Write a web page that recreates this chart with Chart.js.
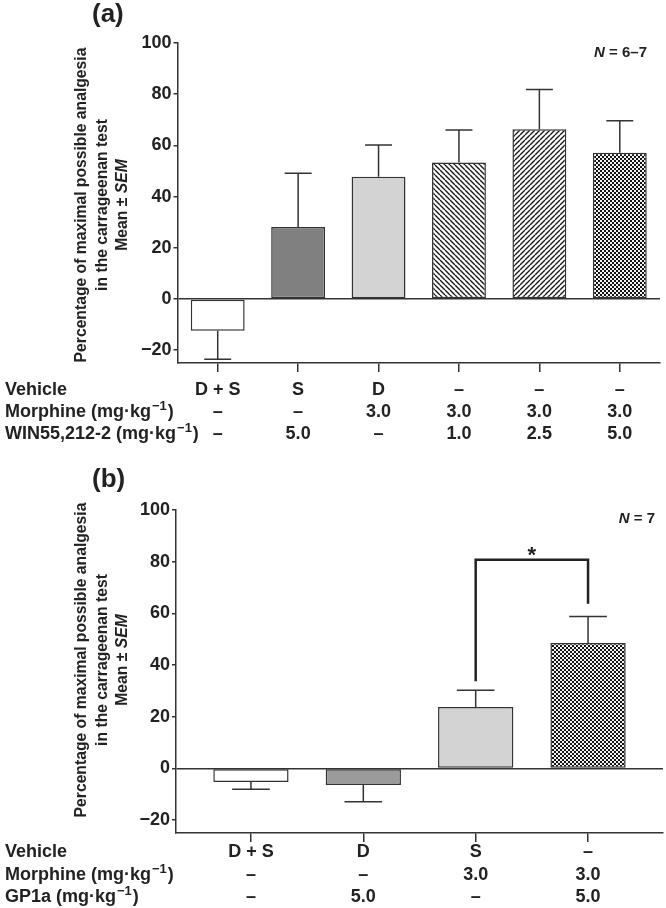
<!DOCTYPE html>
<html>
<head>
<meta charset="utf-8">
<script src="https://cdn.jsdelivr.net/npm/chart.js@4.4.1/dist/chart.umd.min.js"></script>
<style>
  body { margin: 0; background: #fff; width: 666px; height: 908px; position: relative; overflow: hidden; }
  canvas { position: absolute; left: 0; }
  #chartA { top: 0; }
  #chartB { top: 455px; }
</style>
</head>
<body>
<canvas id="chartA" width="666" height="455"></canvas>
<canvas id="chartB" width="666" height="453"></canvas>
<script>
// panel (a)
const vehicleA = ['D + S', 'S', 'D', '–', '–', '–'];
const morphineA = ['–', '–', '3.0', '3.0', '3.0', '3.0'];
const winA = ['–', '5.0', '–', '1.0', '2.5', '5.0'];
const meanA = [-12.4, 28.1, 47.8, 53.3, 66.3, 57.1];
const semA = [11.1, 21.0, 12.4, 12.7, 15.5, 12.5];

// panel (b)
const vehicleB = ['D + S', 'D', 'S', '–'];
const morphineB = ['–', '–', '3.0', '3.0'];
const gp1aB = ['–', '5.0', '–', '5.0'];
const meanB = [-5.3, -6.4, 23.8, 48.5];
const semB = [2.8, 6.5, 6.4, 10.3];
const sigB = { from: 2, to: 3, top: 80.7, legs: [33.7, 63.7] };

const yTicks = [-20, 0, 20, 40, 60, 80, 100];

const INK = '#222';
const FONT = '"Liberation Sans", Arial, sans-serif';

function tile(size, draw) {
  const c = document.createElement('canvas');
  c.width = c.height = size;
  const g = c.getContext('2d');
  draw(g, size);
  return g.createPattern(c, 'repeat');
}
function hatch(back) {
  return tile(5, (g, s) => {
    g.fillStyle = '#fff';
    g.fillRect(0, 0, s, s);
    g.strokeStyle = '#1a1a1a';
    g.lineWidth = 1.4;
    g.beginPath();
    for (let k = -1; k <= 1; k++) {
      if (back) { g.moveTo(k * s, 0); g.lineTo(k * s + s, s); }
      else { g.moveTo(k * s, s); g.lineTo(k * s + s, 0); }
    }
    g.stroke();
  });
}
const checker = tile(4, (g) => {
  g.fillStyle = '#141414';
  g.fillRect(0, 0, 4, 4);
  g.fillStyle = '#f2f2f2';
  g.fillRect(0, 0, 2, 2);
  g.fillRect(2, 2, 2, 2);
});

const fillsA = ['#ffffff', '#808080', '#d3d3d3', hatch(true), hatch(false), checker];
const fillsB = ['#ffffff', '#9b9b9b', '#d3d3d3', checker];

function drawHeader(ctx, parts, x, y) {
  // parts: [text, superscript, tail]
  ctx.textAlign = 'left';
  ctx.font = 'bold 18px ' + FONT;
  ctx.fillText(parts[0], x, y);
  x += ctx.measureText(parts[0]).width;
  if (parts[1]) {
    ctx.font = 'bold 13px ' + FONT;
    ctx.fillText(parts[1], x + 1, y - 6);
    x += ctx.measureText(parts[1]).width + 2;
    ctx.font = 'bold 18px ' + FONT;
    ctx.fillText(parts[2], x, y);
  }
}

function makePanel(id, cfg) {
  const n = cfg.mean.length;
  const panelPlugin = {
    id: 'panel_' + id,
    afterDatasetsDraw(chart) {
      const ctx = chart.ctx;
      const ys = chart.scales.y;
      const meta = chart.getDatasetMeta(0);
      ctx.save();
      ctx.strokeStyle = '#333';
      ctx.lineWidth = 1.5;
      meta.data.forEach((bar, i) => {
        const v = cfg.mean[i];
        const end = ys.getPixelForValue(v + Math.sign(v) * cfg.sem[i]);
        const half = bar.width / 4;
        ctx.beginPath();
        ctx.moveTo(bar.x, bar.y);
        ctx.lineTo(bar.x, end);
        ctx.moveTo(bar.x - half, end);
        ctx.lineTo(bar.x + half, end);
        ctx.stroke();
      });
      ctx.restore();
    },
    afterDraw(chart) {
      const ctx = chart.ctx;
      const xs = chart.scales.x, ys = chart.scales.y;
      const area = chart.chartArea;
      ctx.save();
      ctx.fillStyle = INK;
      ctx.textBaseline = 'middle';

      // table under the axis
      cfg.rows.forEach((row, r) => {
        const y = area.bottom + cfg.rowOffsets[r];
        drawHeader(ctx, row.head, 5, y);
        ctx.font = 'bold 18px ' + FONT;
        ctx.textAlign = 'center';
        row.values.forEach((v, i) => ctx.fillText(v, xs.getPixelForValue(i), y));
      });

      // panel letter
      ctx.textBaseline = 'alphabetic';
      ctx.textAlign = 'left';
      ctx.font = 'bold 26px ' + FONT;
      ctx.fillText(cfg.letter, 92, cfg.letterY);

      // N label
      ctx.textAlign = 'right';
      ctx.font = 'bold 15px ' + FONT;
      const rest = ' = ' + cfg.nText;
      ctx.fillText(rest, cfg.nX, cfg.nY);
      const w = ctx.measureText(rest).width;
      ctx.font = 'italic bold 15px ' + FONT;
      ctx.fillText('N', cfg.nX - w, cfg.nY);

      // y title, rotated
      ctx.translate(0, 205);
      ctx.rotate(-Math.PI / 2);
      ctx.textBaseline = 'middle';
      ctx.textAlign = 'center';
      ctx.font = 'bold 15.7px ' + FONT;
      ctx.fillText('Percentage of maximal possible analgesia', 0, 82);
      ctx.fillText('in the carrageenan test', 0, 103);
      const a = 'Mean ± ';
      const wa = ctx.measureText(a).width;
      ctx.font = 'italic bold 15.7px ' + FONT;
      const wb = ctx.measureText('SEM').width;
      ctx.textAlign = 'left';
      ctx.font = 'bold 15.7px ' + FONT;
      ctx.fillText(a, -(wa + wb) / 2, 123);
      ctx.font = 'italic bold 15.7px ' + FONT;
      ctx.fillText('SEM', -(wa + wb) / 2 + wa, 123);
      ctx.setTransform(1, 0, 0, 1, 0, 0);

      // significance bracket
      if (cfg.sig) {
        const s = cfg.sig;
        const x1 = xs.getPixelForValue(s.from), x2 = xs.getPixelForValue(s.to);
        const yt = ys.getPixelForValue(s.top);
        ctx.strokeStyle = INK;
        ctx.lineWidth = 2.5;
        ctx.beginPath();
        ctx.moveTo(x1, ys.getPixelForValue(s.legs[0]));
        ctx.lineTo(x1, yt);
        ctx.lineTo(x2, yt);
        ctx.lineTo(x2, ys.getPixelForValue(s.legs[1]));
        ctx.stroke();
        ctx.textAlign = 'center';
        ctx.textBaseline = 'alphabetic';
        ctx.font = 'bold 22px ' + FONT;
        ctx.fillText('*', (x1 + x2) / 2, yt + 2);
      }
      ctx.restore();
    }
  };

  return new Chart(document.getElementById(id), {
    type: 'bar',
    data: {
      datasets: [{
        data: cfg.mean.map((v, i) => ({ x: i, y: v })),
        backgroundColor: cfg.fills,
        borderColor: '#333',
        borderWidth: 1.5,
        borderSkipped: false,
        barPercentage: 0.67,
        categoryPercentage: 1
      }]
    },
    options: {
      responsive: false,
      animation: false,
      layout: { padding: { top: cfg.top, right: cfg.right, left: 0, bottom: 0 } },
      plugins: { legend: { display: false }, tooltip: { enabled: false } },
      scales: {
        x: {
          type: 'linear',
          offset: false,
          min: cfg.xMin,
          max: n - 1 - cfg.xMin,
          afterBuildTicks: s => { s.ticks = cfg.mean.map((_, i) => ({ value: i })); },
          afterFit: s => { s.height = cfg.xHeight; s.paddingLeft = 0; s.paddingRight = 0; },
          ticks: { display: false },
          grid: { offset: false, drawOnChartArea: false, tickLength: 9, tickColor: '#333', lineWidth: 1.5 },
          border: { color: '#333', width: 1.5 }
        },
        y: {
          min: -25,
          max: 100,
          afterBuildTicks: s => { s.ticks = yTicks.map(v => ({ value: v })); },
          afterFit: s => { s.width = cfg.yWidth; s.paddingTop = 0; s.paddingBottom = 0; },
          ticks: {
            color: INK,
            padding: 2,
            font: { family: FONT, size: 18, weight: 'bold' },
            callback: v => (v < 0 ? '−' + Math.abs(v) : String(v))
          },
          grid: {
            color: c => (c.tick && c.tick.value === 0 ? '#333' : 'rgba(0,0,0,0)'),
            tickColor: '#333',
            tickLength: 4,
            lineWidth: 1.5
          },
          border: { color: '#333', width: 1.5 }
        }
      }
    },
    plugins: [panelPlugin]
  });
}

makePanel('chartA', {
  mean: meanA, sem: semA, fills: fillsA,
  xMin: -0.5, top: 43, right: 6, xHeight: 92, yWidth: 177.5,
  rowOffsets: [27, 49, 71],
  rows: [
    { head: ['Vehicle'], values: vehicleA },
    { head: ['Morphine (mg·kg', '−1', ')'], values: morphineA },
    { head: ['WIN55,212-2 (mg·kg', '−1', ')'], values: winA }
  ],
  letter: '(a)', letterY: 22,
  nText: '6–7', nX: 647, nY: 57
});

makePanel('chartB', {
  mean: meanB, sem: semB, fills: fillsB, sig: sigB,
  xMin: -0.667, top: 55, right: 3, xHeight: 75, yWidth: 176,
  rowOffsets: [19, 42, 64],
  rows: [
    { head: ['Vehicle'], values: vehicleB },
    { head: ['Morphine (mg·kg', '−1', ')'], values: morphineB },
    { head: ['GP1a (mg·kg', '−1', ')'], values: gp1aB }
  ],
  letter: '(b)', letterY: 32,
  nText: '7', nX: 655, nY: 68
});
</script>
</body>
</html>
